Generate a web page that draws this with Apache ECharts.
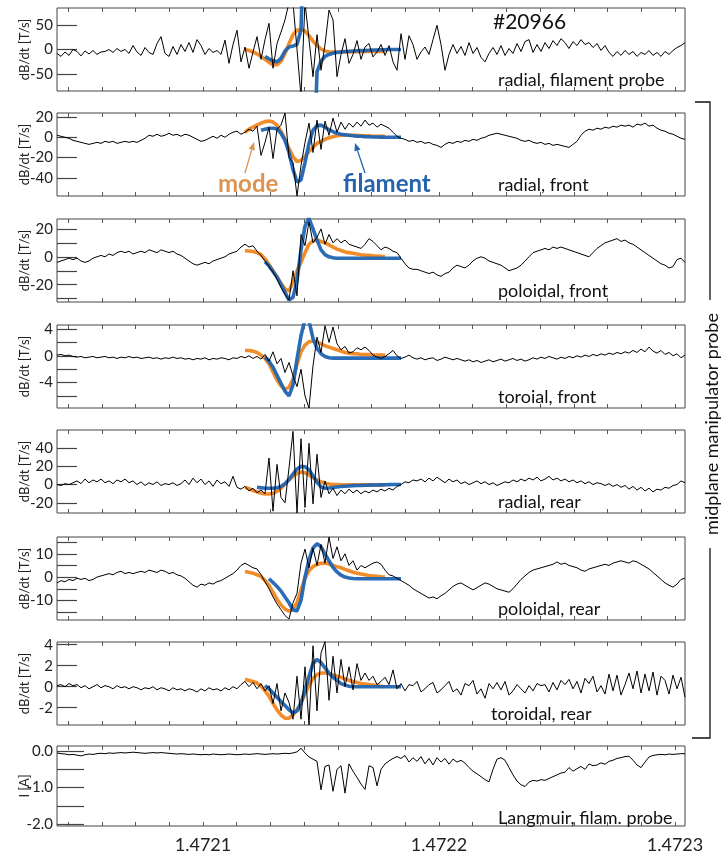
<!DOCTYPE html>
<html>
<head>
<meta charset="utf-8">
<script src="https://cdn.jsdelivr.net/npm/echarts@6/dist/echarts.min.js"></script>
<style>
html, body { margin: 0; padding: 0; background: #fff; }
#main { width: 724px; height: 854px; }
</style>
</head>
<body>
<div id="main"></div>
<script>
// sample grid: time in µs relative to 1.4721 s, one sample every 100/59 µs
var T0 = -61.86;
var DT = 100 / 59;
var N = 158;

var xTickVals = [0, 100, 200];
var xTickLabels = ['1.4721', '1.4722', '1.4723'];

// black traces (measured signals)
var radialFil = [-8,-14,-5,-12,0,-4,-13,-3,-9,-2,
  -10,-5,-4,0,-6,2,-4,0,-8,8,
  -5,-12,4,-6,-10,12,26,-8,-14,6,
  -10,10,-4,14,-6,20,8,-10,2,-6,
  -2,-10,19,-28,10,39,-25,5,-38,-5,
  26,-20,20,53,-38,12,35,60,95,95,
  0,-95,95,20,-55,30,-42,10,80,60,
  -55,-10,22,-28,-10,18,-20,5,12,-15,
  -5,10,-12,8,-25,-42,32,-20,28,10,
  -20,-5,5,-10,20,49,10,-42,-10,10,
  -8,6,-12,14,-8,4,-16,-25,-8,4,
  -10,8,-12,2,-8,12,-4,16,20,-6,
  10,-4,14,2,18,8,22,14,2,16,
  8,20,10,14,4,12,-2,8,-6,-14,
  -4,-12,-2,-10,-4,-14,-6,-10,-2,-12,
  -6,-14,-4,-10,-2,4,8,14];

var radialFront = [2,1,0,-1,-3,-4,-5,-6,-7,-6,
  -5,-6,-4,-5,-4,-6,-5,-4,-5,-4,
  -5,-3,-1,2,1,3,1,2,4,2,
  3,1,3,2,0,-2,-4,-3,-1,1,
  -1,2,0,3,5,6,3,5,8,6,
  11,-18,-5,10,-21,8,12,24,-20,-25,
  -58,-28,-5,14,-15,17,-12,16,2,19,
  5,15,8,14,10,15,11,17,12,14,
  10,13,11,9,5,1,-1,-2,-4,-3,
  -5,-4,-6,-5,-7,-8,-10,-7,-5,-6,
  -4,-5,-3,-4,-2,-3,-1,0,2,3,
  4,3,2,1,0,-1,-3,-4,-3,-5,
  -6,-5,-7,-6,-8,-7,-8,-9,-10,-7,
  -4,2,6,8,7,9,8,10,9,11,
  10,12,11,12,10,13,12,14,11,12,
  9,7,6,4,3,1,-1,-2];

var poloidalFront = [-4,-3,-2,-1,-2,-1,-3,-4,-3,-1,
  0,1,0,2,1,3,4,3,4,2,
  3,4,3,5,4,3,5,4,3,4,
  2,1,-1,-3,-5,-6,-5,-4,-5,-3,
  -2,-1,0,2,3,4,7,9,7,8,
  4,1,-3,-7,-11,-16,-22,-27,-31,-10,
  -28,16,8,25,10,14,20,9,16,10,
  13,10,12,9,8,7,6,9,13,11,
  8,5,7,6,4,3,-1,-5,-8,-9,
  -9,-10,-11,-12,-11,-13,-14,-12,-11,-8,
  -6,-7,-8,-6,-3,-1,0,-1,-3,-4,
  -5,-6,-8,-10,-9,-8,-6,-3,0,3,
  4,5,6,5,7,6,7,6,5,4,
  3,2,1,0,3,6,8,10,11,12,
  13,11,12,10,9,7,5,3,1,-1,
  -3,-5,-6,-8,-7,-2,-1,-4];

var toroidalFront = [0.1,0.2,0.0,0.1,-0.1,-0.2,-0.1,-0.3,-0.2,-0.1,
  -0.3,-0.2,-0.1,-0.3,-0.2,-0.4,-0.2,-0.3,-0.1,-0.3,
  -0.2,-0.4,-0.3,-0.2,-0.4,-0.3,-0.5,-0.3,-0.4,-0.2,
  -0.4,-0.3,-0.5,-0.4,-0.6,-0.4,-0.5,-0.3,-0.6,-0.4,
  -0.5,-0.3,-0.4,-0.6,-0.3,-0.4,-0.1,-0.3,0.0,-0.4,
  -0.1,-0.5,0.2,-0.8,0.6,-1.2,-0.4,-2.5,-1.0,-3.0,
  -4.6,-2.0,-6.0,-7.8,-1.5,2.8,0.5,4.5,2.0,4.3,
  1.8,0.9,1.4,0.4,0.6,1.2,0.9,1.3,0.8,0.1,
  -0.2,-0.4,-0.1,0.3,0.8,0.0,-0.4,-0.2,0.1,-0.3,
  -0.5,-0.3,-0.6,-0.4,-0.3,-0.7,-0.5,-0.2,-0.4,-0.6,
  -0.4,-0.6,-0.8,-0.6,-0.9,-0.7,-1.0,-0.8,-0.6,-0.9,
  -0.7,-0.5,-0.8,-0.6,-0.4,-0.7,-0.5,-0.8,-0.6,-0.3,
  -0.5,-0.2,-0.4,-0.1,-0.3,-0.5,-0.2,-0.4,-0.1,-0.3,
  0.0,-0.2,0.1,-0.1,0.2,0.0,0.3,0.1,0.4,0.2,
  0.5,0.3,0.6,0.4,0.8,0.5,1.0,0.6,1.3,0.7,
  0.4,0.8,0.2,0.5,0.0,0.3,-0.3,0.1];

var radialRear = [0,-1,1,0,2,4,1,6,2,5,
  3,6,2,4,1,5,3,6,2,4,
  0,3,-1,2,0,3,-1,1,0,2,
  -1,1,5,0,7,2,6,0,4,-2,
  5,1,3,-2,9,-3,-5,-2,-7,-4,
  -9,-6,-10,29,-29,22,-14,-20,18,58,
  -31,50,-25,45,-21,33,-14,4,-10,-4,
  -12,-6,-10,-5,-9,-6,-10,-7,-9,-6,
  -8,-5,-7,-4,-6,-2,0,3,2,5,
  4,6,3,7,4,8,5,2,6,3,
  5,1,3,0,2,4,1,3,0,2,
  -1,1,3,2,5,3,6,4,7,5,
  8,4,6,9,5,7,4,6,3,5,
  2,4,1,3,0,2,1,-1,1,-2,
  0,-3,-1,-5,-2,-6,-3,-7,-4,-8,
  -5,-6,-3,-4,-1,0,4,2];

var poloidalRear = [-2.5,-1.5,-2,-1,-1.5,-0.5,-1,-0.5,-1.5,-1,
  0,0.5,1,1.5,1,2,2.5,1.5,2,1.5,
  2,2.5,2,3,2.5,2,3,2.5,1.5,2,
  1,0.5,-0.5,-2,-3.5,-4.3,-3,-3.5,-2.5,-3,
  -2,-1.5,-0.5,0.5,1.5,3,5,6,5,4,
  3.5,1,-2,-5,-8.5,-11.5,-14,-16.5,-18,-11,
  -7,6,12,4,12.5,5,14,6,17.2,8,
  13,7,10,5,7,3,5,4,5,6,
  6.5,5.5,3,1,0.5,-0.5,-1.5,-2.5,-3.5,-5,
  -6,-7,-8,-9,-8.5,-9.3,-8,-7,-5.5,-4,
  -3,-2.5,-3.5,-4.5,-5.5,-4.5,-3.5,-2.5,-3,-4,
  -5,-5.5,-6,-6.5,-5,-3,-1,0.5,2,3,
  3.5,4,4.5,5,5.5,6.5,5.5,6,5,4.5,
  4,3,2.5,3.5,4,4.5,5,5.5,5,6,
  6.5,7,6.5,6,7,6.5,5.5,4.5,3.5,2,
  0.5,-1,-2.5,-3.5,-4.3,-3,-1,-0.5];

var toroidalRear = [0.1,0.2,0.0,0.3,0.1,0.2,-0.1,0.1,-0.2,0.0,
  0.2,-0.1,0.1,0.0,-0.2,0.1,-0.1,0.0,-0.2,0.0,
  -0.1,-0.3,-0.1,-0.2,0.0,-0.3,-0.1,-0.2,-0.4,-0.1,
  -0.3,-0.2,-0.4,-0.2,-0.3,-0.5,-0.2,-0.4,-0.1,-0.3,
  -0.2,-0.4,-0.1,-0.3,0.0,-0.2,0.2,0.5,0.0,0.4,
  -0.2,0.3,-0.4,0.1,-1.6,0.3,-2.3,-0.6,-1.5,-3.1,
  1.0,-3.1,1.9,-3.65,3.9,-2.3,3.2,4.3,-1.3,2.9,
  -0.6,2.6,0.0,1.9,-0.3,2.2,0.6,1.3,0.6,1.0,
  0.2,0.5,0.9,0.2,1.6,-0.2,0.3,-0.4,0.2,0.1,
  0.5,-0.5,-0.2,0.2,0.4,-0.6,-0.3,0.1,0.5,-0.5,
  -0.2,-0.8,0.3,0.1,0.6,-0.7,-0.2,-1.1,0.3,-0.2,
  0.4,-0.3,0.5,-0.8,-0.4,0.2,-0.2,-0.6,0.1,-0.4,
  0.3,0.1,0.2,-0.5,0.4,-0.3,0.6,0.2,0.7,-0.2,
  0.5,-0.6,0.8,0.3,1.0,-0.5,0.1,-0.7,1.2,-0.4,
  1.1,-0.8,0.2,1.3,-0.2,1.5,-0.6,1.2,-0.4,1.4,
  -0.8,1.0,0.6,-0.7,1.1,-0.2,0.9,-1.0];

var langmuir = [-0.05,-0.07,-0.08,-0.1,-0.09,-0.11,-0.13,-0.1,-0.08,-0.09,
  -0.07,-0.06,-0.07,-0.05,-0.06,-0.05,-0.04,-0.05,-0.04,-0.03,
  -0.04,-0.05,-0.06,-0.05,-0.04,-0.05,-0.04,-0.05,-0.06,-0.07,
  -0.08,-0.07,-0.08,-0.09,-0.08,-0.09,-0.1,-0.09,-0.1,-0.08,
  -0.09,-0.1,-0.09,-0.08,-0.09,-0.1,-0.09,-0.08,-0.09,-0.08,
  -0.07,-0.08,-0.09,-0.08,-0.07,-0.08,-0.07,-0.06,-0.07,-0.05,
  -0.02,0.08,-0.05,-0.16,-0.22,-0.28,-1.06,-0.42,-0.38,-1.1,
  -0.5,-0.4,-1.15,-0.35,-0.55,-0.72,-0.9,-1.05,-0.4,-0.45,
  -0.95,-0.5,-0.35,-0.27,-0.2,-0.15,-0.2,-0.12,-0.3,-0.18,
  -0.28,-0.15,-0.35,-0.2,-0.38,-0.18,-0.3,-0.2,-0.36,-0.22,
  -0.3,-0.25,-0.33,-0.45,-0.55,-0.62,-0.7,-0.78,-0.84,-0.5,
  -0.22,-0.18,-0.25,-0.45,-0.65,-0.82,-0.92,-0.97,-0.85,-0.8,
  -0.82,-0.78,-0.8,-0.75,-0.7,-0.65,-0.6,-0.58,-0.45,-0.55,
  -0.48,-0.42,-0.5,-0.35,-0.4,-0.38,-0.32,-0.36,-0.28,-0.25,
  -0.2,-0.18,-0.15,-0.14,-0.25,-0.38,-0.45,-0.3,-0.16,-0.12,
  -0.1,-0.09,-0.1,-0.08,-0.09,-0.08,-0.07,-0.07];

// fits: values on the same sample grid, starting at the given sample index
var mode1 = [0,-2,-5,-9,-14,-20,-26,-31,-31,-24,-8,12,30,39,41,37,28,17,8,1,-3,-5,
  -5,-5,-5,-5,-5,-4.5,-4.5,-4.5,-4,-4,-4,-4,-4,-4];
var fil1 = [-14,-19,-23,-25,-18,-3,5,7,10,40,300,null,-300,-45,-24,-14,-10,-7.5,-6,-5,-4,
  -3.5,-3,-2.5,-2,-2,-1.5,-1,-1,-0.5,-0.5,0,0,0,0];
var mode2 = [5,8,10,12,14,15.5,16,15,12,6,-2,-11,-19,-24,-23,-19,-14,-10,-6,-4,
  -2,-0.5,0.5,1.5,2,2,2,2,2,1.5,1.5,1.5,1,1,1,1];
var fil2 = [7,8,9,9,8.5,4,-3,-15,-32,-44,-42,-25,-6,7,11.5,12,10,7.5,5.5,4,
  3,2.5,2,1.5,1,1,0.5,0.5,0.3,0.3,0.2,0.1,0,0,0,0];
var mode3 = [4.3,4.2,3.8,3,1.5,-1.5,-5.5,-10,-14.5,-19,-23,-24.5,-18,-10,-4,3,9,11.5,12,11,
  10,8.5,7,5.5,4.5,3.5,3,2.5,2,1.5,1.2,1,0.7,0.5,0.3,0.2];
var fil3 = [-3.5,-6.5,-10.5,-14.5,-20,-25.5,-31,-29,-17,5,22,27.5,20,12,5,1.5,0,-0.7,
  -1,-1,-1,-1,-1,-1,-1,-1,-1,-1,-1,-1,-1,-1,-1,-1,-1];
var mode4 = [0.8,0.8,0.7,0.5,0.1,-0.4,-1.2,-2.4,-3.6,-4.5,-5.0,-4.7,-3.5,-1.3,0.6,1.6,2.1,2.2,2.0,1.8,
  1.5,1.3,1.1,0.9,0.7,0.5,0.4,0.3,0.3,0.2,0.2,0.2,0.1,0.1,0.1,0.1];
var fil4 = [-0.2,-0.8,-1.7,-2.9,-4.1,-5.3,-6.0,-4.4,-0.5,3.0,5.5,5.2,2.6,1.1,0.3,-0.1,-0.3,
  -0.35,-0.35,-0.35,-0.35,-0.35,-0.35,-0.35,-0.35,-0.35,-0.35,-0.35,-0.35,-0.35,-0.35,-0.35,-0.35,-0.35,-0.35];
var mode5 = [-3,-4.5,-6.5,-8,-9.5,-10.3,-10.3,-9.5,-7.5,-4,0.5,5,9,12,13.8,13,10.5,7.5,5,3,1.5,0.7,0.2,0,
  -0.3,-0.3,-0.3,-0.3,-0.3,-0.3,-0.3,-0.3,-0.3,-0.3,-0.3,-0.3];
var fil5 = [-3,-3.5,-4,-4,-4,-3.5,-2,1,5.5,11.5,17,19.8,19.5,16,9.5,2.5,-2.5,-4,-3.8,-3.2,
  -2.6,-2.1,-1.8,-1.5,-1.2,-1,-0.9,-0.7,-0.6,-0.5,-0.4,-0.3,-0.2,-0.1,0,0,0];
var mode6 = [2.4,2.1,1.7,1.0,0.3,-1.5,-3.6,-6.5,-9.5,-12,-13.7,-14.6,-13.8,-11,-5.5,-0.5,2.8,4.5,5.4,5.9,
  6,5.6,5,4.5,4,3.3,2.7,2.1,1.7,1.3,1,0.7,0.5,0.3,0.1,0];
var fil6 = [-0.7,-2.3,-4,-6,-8.5,-11,-14,-14.5,-10,0,7.5,12.5,14.3,13,10,7,4.2,2.2,0.8,0,-0.4,-0.6,
  -0.7,-0.7,-0.7,-0.7,-0.7,-0.7,-0.7,-0.7,-0.7,-0.7,-0.7,-0.7];
var mode7 = [0.7,0.6,0.5,0.35,0.05,-0.4,-0.9,-1.6,-2.2,-2.7,-3.0,-3.0,-2.7,-2.2,-1.5,-0.7,0.1,0.8,1.15,1.3,
  1.3,1.25,1.15,1.0,0.9,0.75,0.6,0.5,0.4,0.3,0.25,0.2,0.15,0.1,0.05,0];
var fil7 = [0.1,-0.2,-0.6,-1.0,-1.4,-1.8,-2.2,-2.5,-2.3,-1.6,-0.3,1.0,2.2,2.6,2.3,1.8,1.3,0.9,0.6,0.3,0.15,0.05,
  0,0,0,0,0,0,0,0,0,0,0,0,0];

var traces = [radialFil, radialFront, poloidalFront, toroidalFront, radialRear, poloidalRear, toroidalRear, langmuir];
var modeFits = [mode1, mode2, mode3, mode4, mode5, mode6, mode7];
var modeStart = [47, 47, 47, 47, 47, 47, 47];
var filFits = [fil1, fil2, fil3, fil4, fil5, fil6, fil7];
var filStart = [52, 51, 52, 52, 50, 53, 52];

var titles = ['radial, filament probe', 'radial, front', 'poloidal, front', 'toroial, front',
  'radial, rear', 'poloidal, rear', 'toroidal, rear', 'Langmuir, filam. probe'];
var yMin = [-84, -58, -32.4, -7.8, -31, -18.4, -3.65, -2.05];
var yMax = [84, 24, 27.1, 4.6, 59.5, 17.2, 4.26, 0.14];
var yTicks = [[-50,0,50], [-40,-20,0,20], [-30,-20,-10,0,10,20], [-6,-4,-2,0,2,4],
  [-20,0,20,40], [-15,-10,-5,0,5,10,15], [-2,0,2,4], [-2,-1.5,-1,-0.5,0]];
var yLabels = [[-50,0,50], [-40,-20,0,20], [-20,0,20], [-4,0,4],
  [-20,0,20,40], [-10,0,10], [-2,0,2,4], [-2,-1,0]];

var LEFT = 57, WIDTH = 628, HEIGHT = 83;
var tops = [8, 113, 219, 325, 430, 537, 642, 746];
var FONT = 'Lato, "Open Sans", sans-serif';
var ORANGE = '#f0861d', BLUE = '#1f64b2', MODE_TXT = '#dc9350', FIL_TXT = '#2563ad';

var xMin = T0, xMax = T0 + (N - 1) * DT;
var minorTicks = [];
for (var k = -5; k <= 15; k++) {
  var tv = k * 100 / 7;
  if (tv > xMin && tv < xMax) minorTicks.push(tv);
}

function toXY(vals, start) {
  return vals.map(function (v, j) {
    return [T0 + (start + j) * DT, v === null ? '-' : v];
  });
}

var grids = [], xAxes = [], yAxes = [], series = [];
for (var p = 0; p < 8; p++) {
  grids.push({ left: LEFT, top: tops[p], width: WIDTH, height: HEIGHT,
    show: true, borderColor: '#444', borderWidth: 1, backgroundColor: 'transparent' });
  var last = (p === 7);
  xAxes.push({
    type: 'value', gridIndex: p, position: 'bottom', min: xMin, max: xMax,
    axisLine: { show: false, onZero: false }, splitLine: { show: false },
    axisTick: { show: true, inside: true, length: 4, customValues: minorTicks, lineStyle: { color: '#555' } },
    axisLabel: {
      show: last, customValues: xTickVals, fontSize: 18, fontFamily: FONT, color: '#222', margin: 10,
      formatter: function (v) { var i = xTickVals.indexOf(Math.round(v)); return i >= 0 ? xTickLabels[i] : ''; }
    }
  });
  xAxes.push({
    type: 'value', gridIndex: p, position: 'top', min: xMin, max: xMax,
    axisLine: { show: false, onZero: false }, splitLine: { show: false }, axisLabel: { show: false },
    axisTick: { show: true, inside: true, length: 4, customValues: minorTicks, lineStyle: { color: '#555' } }
  });
  yAxes.push({
    type: 'value', gridIndex: p, position: 'left', min: yMin[p], max: yMax[p],
    axisLine: { show: false, onZero: false }, splitLine: { show: false },
    axisTick: { show: true, inside: true, length: last ? 27 : 20, customValues: yTicks[p],
      lineStyle: { color: '#444', width: 1.2 } },
    axisLabel: { customValues: yLabels[p], fontSize: 15, fontFamily: FONT, color: '#222', margin: 4,
      formatter: last ? function (v) { return v.toFixed(1); } : function (v) { return String(v); } },
    name: last ? 'I [A]' : 'dB/dt [T/s]', nameLocation: 'middle', nameGap: 26, nameMoveOverlap: false,
    nameTextStyle: { fontSize: 13, fontFamily: FONT, color: '#222' }
  });
  if (p < 7) {
    series.push({ type: 'line', xAxisIndex: 2 * p, yAxisIndex: p, showSymbol: false, symbol: 'none',
      data: toXY(modeFits[p], modeStart[p]), lineStyle: { color: ORANGE, width: 3.6, opacity: 0.95 }, z: 2 });
    series.push({ type: 'line', xAxisIndex: 2 * p, yAxisIndex: p, showSymbol: false, symbol: 'none',
      data: toXY(filFits[p], filStart[p]), connectNulls: false,
      lineStyle: { color: BLUE, width: 3.6, opacity: 0.95 }, z: 3 });
  }
  series.push({ type: 'line', xAxisIndex: 2 * p, yAxisIndex: p, showSymbol: false, symbol: 'none',
    data: toXY(traces[p], 0), lineStyle: { color: '#000', width: 1 }, z: 4 });
}

function arrow(x1, y1, x2, y2, color) {
  var dx = x2 - x1, dy = y2 - y1, L = Math.sqrt(dx * dx + dy * dy);
  var ux = dx / L, uy = dy / L, hl = 8, hw = 3.2;
  var bx = x2 - ux * hl, by = y2 - uy * hl;
  return [
    { type: 'line', shape: { x1: x1, y1: y1, x2: bx, y2: by }, style: { stroke: color, lineWidth: 1.3 }, z: 10 },
    { type: 'polygon', shape: { points: [[x2, y2], [bx - uy * hw, by + ux * hw], [bx + uy * hw, by - ux * hw]] },
      style: { fill: color }, z: 10 }
  ];
}

var graphics = [];
for (var q = 0; q < 8; q++) {
  graphics.push({ type: 'text', left: q === 6 ? 491 : 498, top: tops[q] + 63, z: 10,
    style: { text: titles[q], font: '18px ' + FONT, fill: '#111' } });
}
graphics.push({ type: 'text', left: 493, top: 12, z: 10, style: { text: '#20966', font: '21px ' + FONT, fill: '#111' } });
graphics.push({ type: 'text', left: 218, top: 172, z: 10, style: { text: 'mode', font: 'bold 24px ' + FONT, fill: MODE_TXT } });
graphics.push({ type: 'text', left: 343, top: 172, z: 10, style: { text: 'filament', font: 'bold 24px ' + FONT, fill: FIL_TXT } });
graphics = graphics.concat(arrow(245, 173, 254, 142, MODE_TXT));
graphics = graphics.concat(arrow(365, 173, 355, 143, FIL_TXT));
// bracket for the manipulator probe panels
graphics.push({ type: 'polyline', shape: { points: [[695, 102], [710, 102], [710, 300]] },
  style: { stroke: '#111', lineWidth: 1.3, fill: null }, z: 10 });
graphics.push({ type: 'polyline', shape: { points: [[710, 548], [710, 738], [692, 738]] },
  style: { stroke: '#111', lineWidth: 1.3, fill: null }, z: 10 });
graphics.push({ type: 'text', x: 712, y: 424, rotation: Math.PI / 2, z: 10,
  style: { text: 'midplane manipulator probe', font: '18px ' + FONT, fill: '#111',
    textAlign: 'center', textVerticalAlign: 'middle' } });

var chart = echarts.init(document.getElementById('main'));
chart.setOption({
  animation: false,
  backgroundColor: '#fff',
  grid: grids,
  xAxis: xAxes,
  yAxis: yAxes,
  series: series,
  graphic: graphics
});
</script>
</body>
</html>
